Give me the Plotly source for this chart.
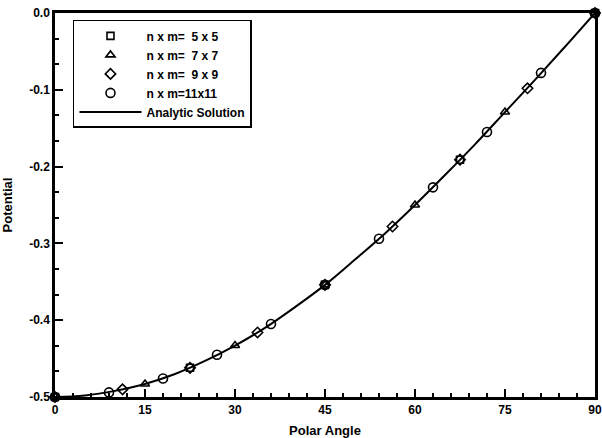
import plotly.graph_objects as go

# Data
angle_5x5 = [0, 22.5, 45, 67.5, 90]
pot_5x5 = [-0.5, -0.462, -0.354, -0.191, 0.0]

angle_7x7 = [0, 15, 30, 45, 60, 75, 90]
pot_7x7 = [-0.5, -0.483, -0.433, -0.354, -0.25, -0.129, 0.0]

angle_9x9 = [0, 11.25, 22.5, 33.75, 45, 56.25, 67.5, 78.75, 90]
pot_9x9 = [-0.5, -0.490, -0.462, -0.416, -0.354, -0.278, -0.191, -0.098, 0.0]

angle_11x11 = [0, 9, 18, 27, 36, 45, 54, 63, 72, 81, 90]
pot_11x11 = [-0.5, -0.494, -0.476, -0.445, -0.405, -0.354, -0.294, -0.227, -0.155, -0.078, 0.0]

angle_analytic = [0, 5, 10, 15, 20, 25, 30, 35, 40, 45, 50, 55, 60, 65, 70, 75, 80, 85, 90]
pot_analytic = [-0.5, -0.498, -0.492, -0.483, -0.470, -0.453, -0.433, -0.410, -0.383, -0.354,
                -0.321, -0.287, -0.25, -0.211, -0.171, -0.129, -0.087, -0.044, 0.0]

x_ticks = [0, 15, 30, 45, 60, 75, 90]
x_tick_labels = ["0", "15", "30", "45", "60", "75", "90"]
y_ticks = [0.0, -0.1, -0.2, -0.3, -0.4, -0.5]
y_tick_labels = ["0.0", "-0.1", "-0.2", "-0.3", "-0.4", "-0.5"]

names = ["n x m=  5 x 5", "n x m=  7 x 7", "n x m=  9 x 9", "n x m=11x11"]

FONT = "Liberation Sans, Arial, sans-serif"

fig = go.Figure()
series = [
    (angle_5x5, pot_5x5, "square-open", 7),
    (angle_7x7, pot_7x7, "triangle-up-open", 8),
    (angle_9x9, pot_9x9, "diamond-open", 8),
    (angle_11x11, pot_11x11, "circle-open", 9),
]
for (xs, ys, sym, sz), nm in zip(series, names):
    fig.add_trace(go.Scatter(
        x=xs, y=ys, mode="markers", name=nm,
        marker=dict(symbol=sym, size=sz, color="black", line=dict(color="black", width=1.6)),
        cliponaxis=False,
    ))
fig.add_trace(go.Scatter(
    x=angle_analytic, y=pot_analytic, mode="lines", name="Analytic Solution",
    line=dict(color="black", width=2, shape="spline"),
    cliponaxis=False,
))

fig.update_layout(
    width=602, height=438,
    margin=dict(l=55, r=7, t=13, b=41, autoexpand=False),
    paper_bgcolor="white", plot_bgcolor="white",
    font=dict(family=FONT, size=12, color="black", weight="bold"),
    showlegend=True,
    legend=dict(
        x=0.0333, y=0.982, xanchor="left", yanchor="top",
        bordercolor="black", borderwidth=1.5, bgcolor="white",
        font=dict(family=FONT, size=12, color="black", weight="bold"),
        tracegroupgap=0, itemwidth=62,
    ),
)
fig.update_xaxes(
    range=[0, 90], tickvals=x_ticks, ticktext=x_tick_labels,
    ticks="inside", ticklen=8, tickwidth=2, tickcolor="black",
    minor=dict(dtick=3, ticks="inside", ticklen=4, tickwidth=1.5, tickcolor="black"),
    showline=True, linecolor="black", linewidth=2.5, mirror=True,
    showgrid=False, zeroline=False, automargin=False,
    title=dict(text="Polar Angle", font=dict(size=13, weight="bold")),
    tickfont=dict(size=12, weight="bold"),
)
fig.update_yaxes(
    range=[-0.5, 0.0], tickvals=y_ticks, ticktext=y_tick_labels,
    ticks="inside", ticklen=8, tickwidth=2, tickcolor="black",
    minor=dict(tick0=0, dtick=0.1 / 3, ticks="inside", ticklen=4, tickwidth=1.5, tickcolor="black"),
    showline=True, linecolor="black", linewidth=2.5, mirror=True,
    showgrid=False, zeroline=False, automargin=False,
    title=dict(text="Potential", font=dict(size=13, weight="bold")),
    tickfont=dict(size=12, weight="bold"),
)

fig.write_html(
    "out.html",
    config={"displayModeBar": False},
    post_script="document.body.style.margin='0';document.body.style.overflow='hidden';",
)
